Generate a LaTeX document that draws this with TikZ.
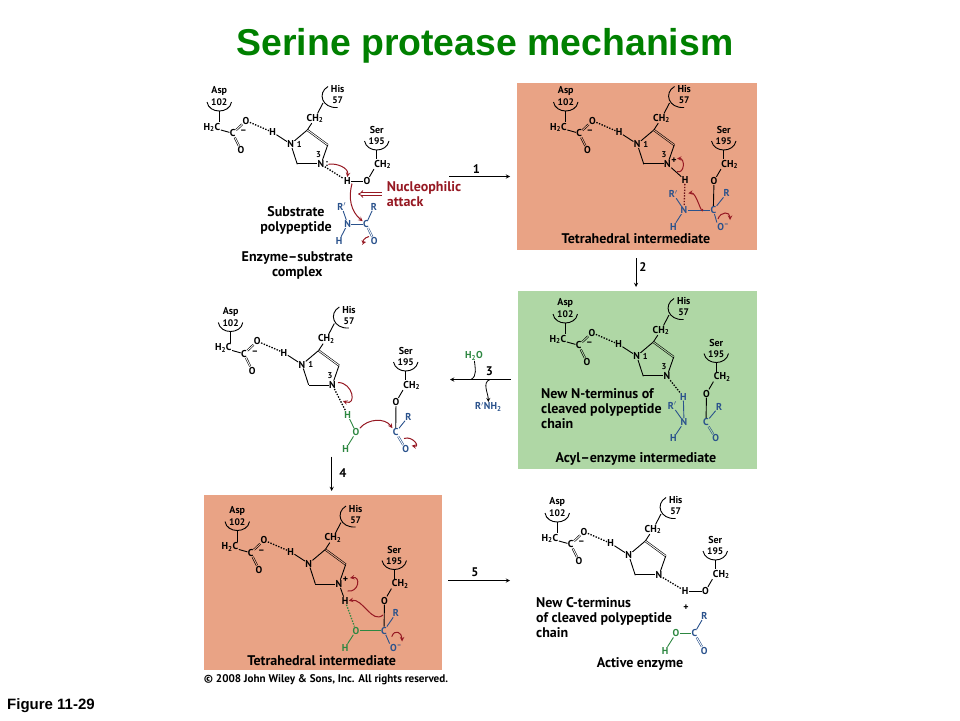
\documentclass[tikz,border=0pt]{standalone}
\usepackage{fontspec}
\setmainfont{PT Sans}
\newfontfamily\HeadFont{Liberation Sans}
\usetikzlibrary{positioning,arrows}
\definecolor{TetraBg}{RGB}{233,163,133}
\definecolor{AcylBg}{RGB}{175,215,165}
\definecolor{PeptideBlue}{RGB}{42,82,140}
\definecolor{WaterGreen}{RGB}{45,135,65}
\definecolor{PushRed}{RGB}{150,25,35}
\definecolor{TitleGreen}{RGB}{0,128,0}
\colorlet{PanelBg}{white}
\tikzstyle{atom}=[inner sep=0.3pt, font=\fontsize{10}{12}\selectfont\bfseries]
\tikzstyle{sitenum}=[atom, font=\fontsize{9.5}{11}\selectfont\bfseries]
\tikzstyle{ringnum}=[atom, font=\fontsize{8.5}{10}\selectfont\bfseries]
\tikzstyle{blueatom}=[atom, text=PeptideBlue]
\tikzstyle{greenatom}=[atom, text=WaterGreen]
\tikzstyle{arrownum}=[atom, font=\fontsize{12.5}{14}\selectfont\bfseries]
\tikzstyle{caption}=[inner sep=0pt, font=\fontsize{14}{15}\selectfont\bfseries]
\tikzstyle{bond}=[line width=0.9pt]
\tikzstyle{dbond}=[line width=0.6pt, double=PanelBg, double distance=0.9pt]
\tikzstyle{hbond}=[line width=1.3pt, dash pattern=on 1.4pt off 1.4pt]
\tikzstyle{site}=[line width=0.9pt]
\tikzstyle{pusher}=[->, >=stealth, line width=1pt, PushRed]
\tikzstyle{reaction}=[->, >=stealth, line width=0.9pt]
% Asp 102 and His 57, written at the place they have in the first complex
\newcommand{\ActiveSite}[3]{%
  \begin{scope}[shift={(#2,#3)}, name prefix=#1-]
    \node[atom] (AspName) at (219.3,91) {Asp};
    \node[sitenum] (AspNum)  at (219.3,102.4) {102};
    \draw[site] (207,102) .. controls (209,114) and (229.5,114) .. (231.5,102);
    \coordinate (AspBase) at (219.3,111);
    \coordinate (AspFoot) at (219.3,122);
    \node[atom] (H2C) at (212,127.5) {H\textsubscript{2}C};
    \node[atom] (CA)  at (232.7,133.3) {C};
    \node[atom] (O1)  at (246,120.7) {O};
    \node[atom] (O2)  at (241,150) {O};
    \node[atom] (Neg) at (243.5,132) {--};
    \node[atom] (H1)  at (272.7,132.3) {H};
    \node[atom] (N1)  at (290.7,144) {N};
    \node[atom] (N3)  at (321,164.3) {N};
    \coordinate (CT) at (307.3,130);
    \coordinate (CR) at (327.7,145);
    \coordinate (CB) at (297.3,164.3);
    \node[atom] (CH2) at (315,118.3) {CH\textsubscript{2}};
    \coordinate (HisBase) at (323,103);
    \node[atom] (HisName) at (337.7,89.3) {His};
    \node[sitenum] (HisNum)  at (337.7,100.7) {57};
    \draw[site] (328,86.5) .. controls (317,93) and (322,108.5) .. (337.5,107.5);
    \draw[bond] (AspBase) -- (AspFoot);
    \draw[bond] (H2C) -- (CA);
    \draw[dbond] (CA) -- (O1);
    \draw[dbond] (CA) -- (O2);
    \draw[hbond] (O1) -- (H1);
    \draw[bond] (H1) -- (N1);
    \draw[bond] (N1) -- (CT);
    \draw[dbond] (CT) -- (CR);
    \draw[bond] (CR) -- (N3);
    \draw[dbond] (N3) -- (CB);
    \draw[bond] (CB) -- (N1);
    \draw[bond] (CT) -- (CH2);
    \draw[bond] (CH2) -- (HisBase);
  \end{scope}}
% Ser 195 with its oxygen
\newcommand{\SerSite}[3]{%
  \begin{scope}[shift={(#2,#3)}, name prefix=#1-]
    \node[atom] (SerName) at (376.7,130) {Ser};
    \node[sitenum] (SerNum)  at (376.7,141.4) {195};
    \draw[site] (364.5,141) .. controls (367,153) and (386.5,153) .. (389,141);
    \coordinate (SerBase) at (376.7,150);
    \node[atom] (CH2S) at (382.7,164.3) {CH\textsubscript{2}};
    \node[atom] (OS)   at (367,181) {O};
    \draw[bond] (SerBase) -- (CH2S.north -| SerBase);
    \draw[bond] (CH2S.south west) -- (OS);
  \end{scope}}

\begin{document}
\begin{tikzpicture}[x=1pt, y=-1pt]
      \useasboundingbox (0,0) rectangle (960,720);
      \node[inner sep=0pt, font=\HeadFont\fontsize{37.4}{40}\selectfont\bfseries, text=TitleGreen] (Title) at (485,46) {Serine protease mechanism};
      \node[inner sep=0pt, anchor=west, font=\HeadFont\fontsize{15}{17}\selectfont\bfseries] (Figure) at (7,706) {Figure 11-29};

      %%%%%%%%%%%%%%%%%%%%%%%%%%%%%%%%%%%%%%%%%%
      % ENZYME-SUBSTRATE COMPLEX
      %%%%%%%%%%%%%%%%%%%%%%%%%%%%%%%%%%%%%%%%%%
      \ActiveSite{p1}{0}{0}
      \SerSite{p1}{0}{0}
      \node[atom, right=0pt of p1-N3] (p1-Colon) {:};
      \node[ringnum, right=2pt of p1-N1] (p1-One) {1};
      \node[ringnum] (p1-Three) at (318.5,155) {3};
      \node[atom] (p1-H) at (347.3,181) {H};
      \node[blueatom] (p1-C) at (366,224) {C};
      \node[blueatom] (p1-N) at (347.7,224) {N};
      \node[blueatom] (p1-Rp) at (341.7,206.7) {R$'$};
      \node[blueatom] (p1-R) at (374,206.7) {R};
      \node[blueatom] (p1-HN) at (339,240.7) {H};
      \node[blueatom] (p1-O) at (374.3,241) {O};
      \draw[hbond] (p1-N3) -- (p1-H);
      \draw[bond] (p1-H) -- (p1-OS);
      \draw[bond, PeptideBlue] (p1-N) -- (p1-C);
      \draw[bond, PeptideBlue] (p1-N) -- (p1-Rp);
      \draw[bond, PeptideBlue] (p1-N) -- (p1-HN);
      \draw[bond, PeptideBlue] (p1-C) -- (p1-R);
      \draw[dbond, PeptideBlue] (p1-C) -- (p1-O);
      \coordinate (p1-BondMid) at (352,183.5);
      \coordinate (p1-LoopA) at (369,236.5);
      \coordinate (p1-LoopB) at (366,242);
      \draw[pusher] (p1-Colon.east) to[out=10, in=80] (p1-H.north);
      \draw[pusher] (p1-BondMid) to[out=255, in=140] (p1-C);
      \draw[pusher] (p1-LoopA) to[out=190, in=190, looseness=2] (p1-LoopB);
      \node[caption, anchor=west, align=left, text=PushRed] (p1-Attack) at (386.7,194.5) {Nucleophilic\\attack};
      \coordinate (p1-AttackTail) at (382,194);
      \coordinate (p1-AttackTip) at (358,194);
      \draw[line width=0.8pt, double=white, double distance=1.8pt, PushRed, -implies] (p1-AttackTail) -- (p1-AttackTip);
      \node[caption, align=center] (p1-Substrate) at (296,220.5) {Substrate\\polypeptide};
      \node[caption, align=center] (p1-Complex) at (297.3,265.5) {Enzyme--substrate\\complex};

      \coordinate (A1s) at (449,176.5);
      \coordinate (A1e) at (510,176.5);
      \draw[reaction] (A1s) -- (A1e);
      \node[arrownum] (A1) at (476.5,169) {1};

      %%%%%%%%%%%%%%%%%%%%%%%%%%%%%%%%%%%%%%%%%%
      % TETRAHEDRAL INTERMEDIATE, TOP
      %%%%%%%%%%%%%%%%%%%%%%%%%%%%%%%%%%%%%%%%%%
      \fill[TetraBg] (517,83) rectangle (757,249.5);
      \colorlet{PanelBg}{TetraBg}
      \ActiveSite{p2}{346.5}{0}
      \SerSite{p2}{347}{0}
      \node[atom, inner sep=0pt, right=0pt of p2-N3.north east, anchor=west] (p2-Plus) {+};
      \node[ringnum, right=2pt of p2-N1] (p2-One) {1};
      \node[ringnum] (p2-Three) at (664,155) {3};
      \node[atom] (p2-H) at (685,180) {H};
      \node[blueatom] (p2-N) at (684,210) {N};
      \node[blueatom] (p2-C) at (713.3,210) {C};
      \node[blueatom] (p2-Rp) at (673.3,194) {R$'$};
      \node[blueatom] (p2-R) at (726.7,193.3) {R};
      \node[blueatom] (p2-HN) at (673.3,226.7) {H};
      \node[blueatom] (p2-O) at (723.3,226.7) {O\textsuperscript{--}};
      \draw[bond] (p2-N3) -- (p2-H);
      \draw[hbond, PushRed!70!black] (p2-H) -- (p2-N);
      \draw[bond] (p2-OS) -- (p2-C);
      \draw[bond, PeptideBlue] (p2-N) -- (p2-C);
      \draw[bond, PeptideBlue] (p2-N) -- (p2-Rp);
      \draw[bond, PeptideBlue] (p2-N) -- (p2-HN);
      \draw[bond, PeptideBlue] (p2-C) -- (p2-R);
      \draw[bond, PeptideBlue] (p2-C) -- (p2-O.north west);
      \coordinate (p2-LoopA) at (677,171.5);
      \coordinate (p2-LoopB) at (677,158.5);
      \coordinate (p2-BondMid) at (702.7,209);
      \coordinate (p2-Lobe) at (688.3,193.3);
      \coordinate (p2-LoopC) at (718,219);
      \coordinate (p2-LoopD) at (730,220);
      \draw[pusher] (p2-LoopA) to[out=-20, in=0, looseness=1.6] (p2-LoopB);
      \draw[pusher] (p2-BondMid) to[out=-95, in=10] (p2-Lobe);
      \draw[pusher] (p2-LoopC) to[out=70, in=90, looseness=1.8] (p2-LoopD);
      \node[caption] (p2-Label) at (636,238.3) {Tetrahedral intermediate};
      \colorlet{PanelBg}{white}

      \coordinate (A2s) at (636,258);
      \coordinate (A2e) at (636,287);
      \draw[reaction] (A2s) -- (A2e);
      \node[arrownum] (A2) at (643,267) {2};

      %%%%%%%%%%%%%%%%%%%%%%%%%%%%%%%%%%%%%%%%%%
      % ACYL-ENZYME INTERMEDIATE
      %%%%%%%%%%%%%%%%%%%%%%%%%%%%%%%%%%%%%%%%%%
      \fill[AcylBg] (518,291) rectangle (757,469);
      \colorlet{PanelBg}{AcylBg}
      \ActiveSite{p3}{346}{212}
      \SerSite{p3}{339.5}{212.5}
      \node[ringnum, right=2pt of p3-N1] (p3-One) {1};
      \node[ringnum] (p3-Three) at (664,367) {3};
      \node[blueatom] (p3-H) at (683.3,396.7) {H};
      \node[blueatom] (p3-N) at (684,422.3) {N};
      \node[blueatom] (p3-Rp) at (672.3,405.7) {R$'$};
      \node[blueatom] (p3-HN) at (673.3,438.3) {H};
      \node[blueatom] (p3-C) at (706,422.3) {C};
      \node[blueatom] (p3-R) at (719,406.7) {R};
      \node[blueatom] (p3-O) at (715.7,438.3) {O};
      \draw[hbond] (p3-N3) -- (p3-H);
      \draw[bond, PeptideBlue] (p3-H) -- (p3-N);
      \draw[bond, PeptideBlue] (p3-N) -- (p3-Rp);
      \draw[bond, PeptideBlue] (p3-N) -- (p3-HN);
      \draw[bond] (p3-OS) -- (p3-C);
      \draw[bond, PeptideBlue] (p3-C) -- (p3-R);
      \draw[dbond, PeptideBlue] (p3-C) -- (p3-O);
      \node[caption, anchor=north west, align=left] (p3-New) at (541,388) {New N-terminus of\\cleaved polypeptide\\chain};
      \node[caption] (p3-Label) at (636,459.3) {Acyl--enzyme intermediate};
      \colorlet{PanelBg}{white}

      \coordinate (A3s) at (510.7,379.5);
      \coordinate (A3e) at (450,379.5);
      \coordinate (A3in) at (471,379.5);
      \coordinate (A3out) at (490,379.5);
      \draw[reaction] (A3s) -- (A3e);
      \node[arrownum] (A3) at (489.3,371) {3};
      \node[greenatom] (Water) at (474,356) {H\textsubscript{2}O};
      \node[blueatom] (Amine) at (488.3,407) {R$'$NH\textsubscript{2}};
      \draw[bond, line width=0.8pt] (Water) to[out=-85, in=30] (A3in);
      \draw[reaction, line width=0.8pt] (A3out) to[out=200, in=90] (Amine);

      %%%%%%%%%%%%%%%%%%%%%%%%%%%%%%%%%%%%%%%%%%
      % WATER ATTACK
      %%%%%%%%%%%%%%%%%%%%%%%%%%%%%%%%%%%%%%%%%%
      \ActiveSite{p4}{11.3}{220.5}
      \SerSite{p4}{29}{221}
      \node[ringnum, right=2pt of p4-N1] (p4-One) {1};
      \node[ringnum] (p4-Three) at (330,376) {3};
      \node[greenatom] (p4-H) at (347.7,415) {H};
      \node[greenatom] (p4-O) at (356,432.3) {O};
      \node[greenatom] (p4-HO) at (345.7,449) {H};
      \node[blueatom] (p4-C) at (395.7,432.3) {C};
      \node[blueatom] (p4-R) at (408.3,416.7) {R};
      \node[blueatom] (p4-Oc) at (405.7,449) {O};
      \draw[hbond] (p4-N3) -- (p4-H);
      \draw[bond, WaterGreen] (p4-H) -- (p4-O);
      \draw[bond, WaterGreen] (p4-O) -- (p4-HO);
      \draw[bond] (p4-OS) -- (p4-C);
      \draw[bond, PeptideBlue] (p4-C) -- (p4-R);
      \draw[dbond, PeptideBlue] (p4-C) -- (p4-Oc);
      \coordinate (p4-LoopA) at (338,382.5);
      \coordinate (p4-LoopB) at (343,401);
      \coordinate (p4-LoopC) at (404,438.5);
      \coordinate (p4-LoopD) at (411.7,445.7);
      \draw[pusher] (p4-LoopA) to[out=0, in=-20, looseness=2] (p4-LoopB);
      \draw[pusher] (p4-O.north east) to[out=50, in=125] (p4-C.north west);
      \draw[pusher] (p4-LoopC) to[out=20, in=-10, looseness=2.2] (p4-LoopD);

      \coordinate (A4s) at (331.7,456.5);
      \coordinate (A4e) at (331.7,491);
      \draw[reaction] (A4s) -- (A4e);
      \node[arrownum] (A4) at (343,473) {4};

      %%%%%%%%%%%%%%%%%%%%%%%%%%%%%%%%%%%%%%%%%%
      % TETRAHEDRAL INTERMEDIATE, BOTTOM
      %%%%%%%%%%%%%%%%%%%%%%%%%%%%%%%%%%%%%%%%%%
      \fill[TetraBg] (204,495) rectangle (442,670);
      \colorlet{PanelBg}{TetraBg}
      \ActiveSite{p5}{18}{419.5}
      \SerSite{p5}{17.5}{419.5}
      \node[atom, inner sep=0pt, right=0pt of p5-N3.north east, anchor=west] (p5-Plus) {+};
      \node[atom] (p5-H) at (345,600.7) {H};
      \node[greenatom] (p5-O) at (356,630.7) {O};
      \node[greenatom] (p5-HO) at (345,647.7) {H};
      \node[blueatom] (p5-C) at (384,630.7) {C};
      \node[blueatom] (p5-R) at (396,613.3) {R};
      \node[blueatom] (p5-Oc) at (396,647.7) {O\textsuperscript{--}};
      \draw[bond] (p5-N3) -- (p5-H);
      \draw[hbond, WaterGreen] (p5-H) -- (p5-O);
      \draw[bond, WaterGreen] (p5-O) -- (p5-HO);
      \draw[bond, WaterGreen] (p5-O) -- (p5-C);
      \draw[bond] (p5-OS) -- (p5-C);
      \draw[bond, PeptideBlue] (p5-C) -- (p5-R);
      \draw[bond, PeptideBlue] (p5-C) -- (p5-Oc.north west);
      \coordinate (p5-LoopA) at (347.5,591);
      \coordinate (p5-LoopB) at (350,578);
      \coordinate (p5-BondMid) at (383,615);
      \coordinate (p5-LoopC) at (391.7,636.7);
      \coordinate (p5-LoopD) at (402,641.5);
      \draw[pusher] (p5-LoopA) to[out=-10, in=10, looseness=2.2] (p5-LoopB);
      \draw[pusher] (p5-BondMid) to[out=-140, in=10] (p5-H.east);
      \draw[pusher] (p5-LoopC) to[out=70, in=90, looseness=2] (p5-LoopD);
      \node[caption] (p5-Label) at (321.7,661) {Tetrahedral intermediate};
      \colorlet{PanelBg}{white}
      \node[inner sep=0pt, font=\fontsize{11.1}{12}\selectfont\bfseries] (Rights) at (326,679.3) {\textcopyright{} 2008 John Wiley \& Sons, Inc. All rights reserved.};

      \coordinate (A5s) at (448,580.5);
      \coordinate (A5e) at (510,580.5);
      \draw[reaction] (A5s) -- (A5e);
      \node[arrownum] (A5) at (475,572) {5};

      %%%%%%%%%%%%%%%%%%%%%%%%%%%%%%%%%%%%%%%%%%
      % ACTIVE ENZYME
      %%%%%%%%%%%%%%%%%%%%%%%%%%%%%%%%%%%%%%%%%%
      \ActiveSite{p6}{338}{411}
      \SerSite{p6}{338.5}{410}
      \node[atom] (p6-H) at (685,591) {H};
      \node[atom] (p6-Plus) at (686,607.3) {+};
      \node[greenatom] (p6-O) at (676,633.3) {O};
      \node[greenatom] (p6-HO) at (665,650.7) {H};
      \node[blueatom] (p6-C) at (694.3,633.3) {C};
      \node[blueatom] (p6-R) at (704.3,616) {R};
      \node[blueatom] (p6-Oc) at (704.3,650.7) {O};
      \draw[hbond] (p6-N3) -- (p6-H);
      \draw[bond] (p6-H) -- (p6-OS);
      \draw[bond, WaterGreen] (p6-O) -- (p6-HO);
      \draw[bond, WaterGreen] (p6-O) -- (p6-C);
      \draw[bond, PeptideBlue] (p6-C) -- (p6-R);
      \draw[dbond, PeptideBlue] (p6-C) -- (p6-Oc);
      \node[caption, anchor=north west, align=left] (p6-New) at (536,597) {New C-terminus\\of cleaved polypeptide\\chain};
      \node[caption] (p6-Label) at (640,664) {Active enzyme};
\end{tikzpicture}
\end{document}
